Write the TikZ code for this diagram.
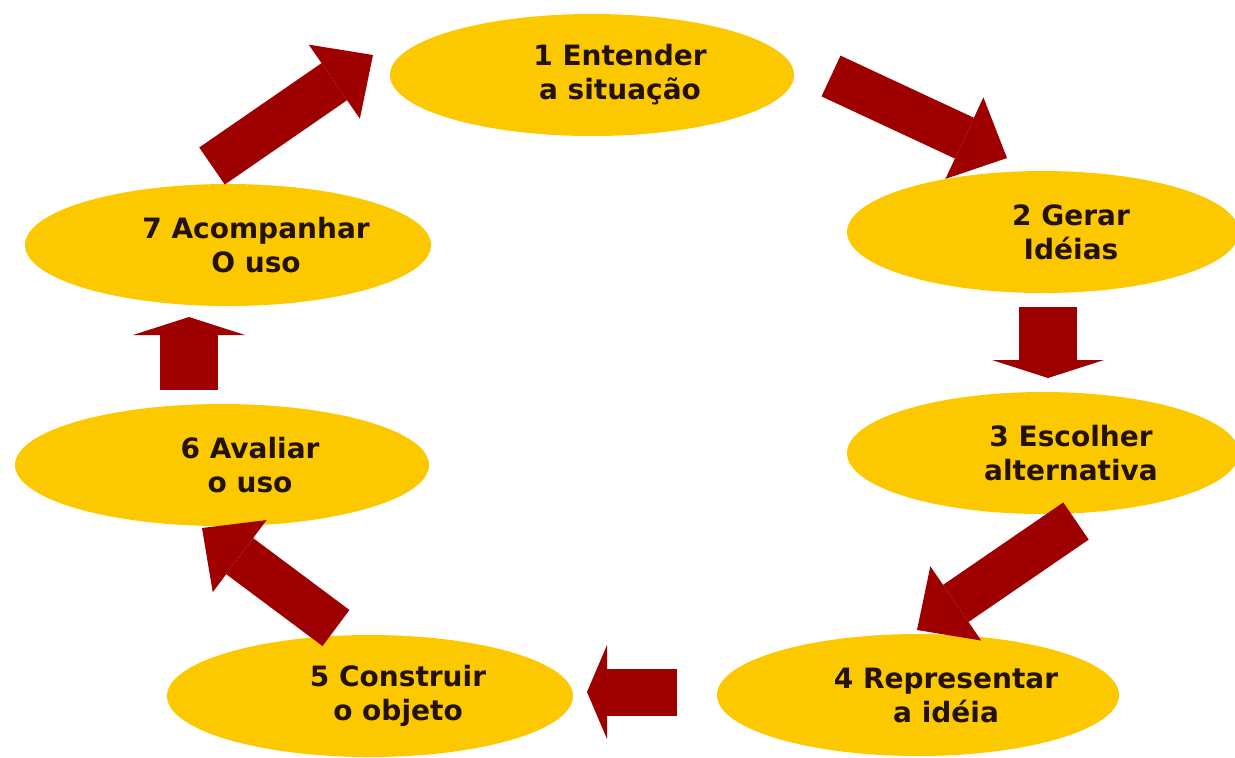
\documentclass[tikz,border=0pt]{standalone}
\usepackage{fontspec}
\setmainfont{DejaVu Sans}
\usetikzlibrary{shapes.geometric,arrows.meta}
\definecolor{stagegold}{RGB}{252,200,0}
\definecolor{flowred}{RGB}{158,0,0}
\definecolor{inkbrown}{RGB}{35,18,5}
\tikzset{
  stage/.style={ellipse, fill=stagegold, minimum width=#1, minimum height=61pt, inner sep=0pt},
  stage/.default=202pt,
  stagetext/.style={align=center, text=inkbrown, font=\fontsize{14}{17}\selectfont\bfseries, xshift=14pt},
  slant/.style={draw=flowred, line width=22.5pt, -{Triangle[length=23.5pt, width=45pt, line width=0pt]}},
  upright/.style={draw=flowred, line width=29pt, -{Triangle[length=9pt, width=56pt, line width=0pt]}},
  level/.style={draw=flowred, line width=23.5pt, -{Triangle[length=10pt, width=47pt, line width=0pt]}}
}
\begin{document}
\begin{tikzpicture}[x=0.5pt, y=-0.5pt]
    \useasboundingbox (0,0) rectangle (1235,757);

    % Etapas do ciclo
    \node[stage=202pt] (e1) at (592,75) {};
    \node[stage=196pt] (e2) at (1043,232) {};
    \node[stage=196pt] (e3) at (1043,453) {};
    \node[stage=201pt] (e4) at (918,695) {};
    \node[stage=203pt] (e5) at (370,696) {};
    \node[stage=207pt] (e6) at (222,465) {};
    \node[stage=203pt] (e7) at (228,245) {};

    \node[stagetext] (t1) at (e1) {1 Entender\\a situação};
    \node[stagetext] (t2) at (e2) {2 Gerar\\Idéias};
    \node[stagetext] (t3) at (e3) {3 Escolher\\alternativa};
    \node[stagetext] (t4) at (e4) {4 Representar\\a idéia};
    \node[stagetext] (t5) at (e5) {5 Construir\\o objeto};
    \node[stagetext] (t6) at (e6) {6 Avaliar\\o uso};
    \node[stagetext] (t7) at (e7) {7 Acompanhar\\O uso};

    % Setas
    \coordinate (tail12) at (831,76);   \coordinate (tip12) at (1007,158);
    \coordinate (tail23) at (1048,307); \coordinate (tip23) at (1048,378);
    \coordinate (tail34) at (1076,521); \coordinate (tip34) at (917,630);
    \coordinate (tail45) at (677,692);  \coordinate (tip45) at (587,692);
    \coordinate (tail56) at (336,628);  \coordinate (tip56) at (202,528);
    \coordinate (tail67) at (189,390);  \coordinate (tip67) at (189,317);
    \coordinate (tail71) at (212,166);  \coordinate (tip71) at (373,55);

    \draw[slant] (tail12) -- (tip12);
    \draw[upright] (tail23) -- (tip23);
    \draw[slant] (tail34) -- (tip34);
    \draw[level] (tail45) -- (tip45);
    \draw[slant] (tail56) -- (tip56);
    \draw[upright] (tail67) -- (tip67);
    \draw[slant] (tail71) -- (tip71);
\end{tikzpicture}
\end{document}
